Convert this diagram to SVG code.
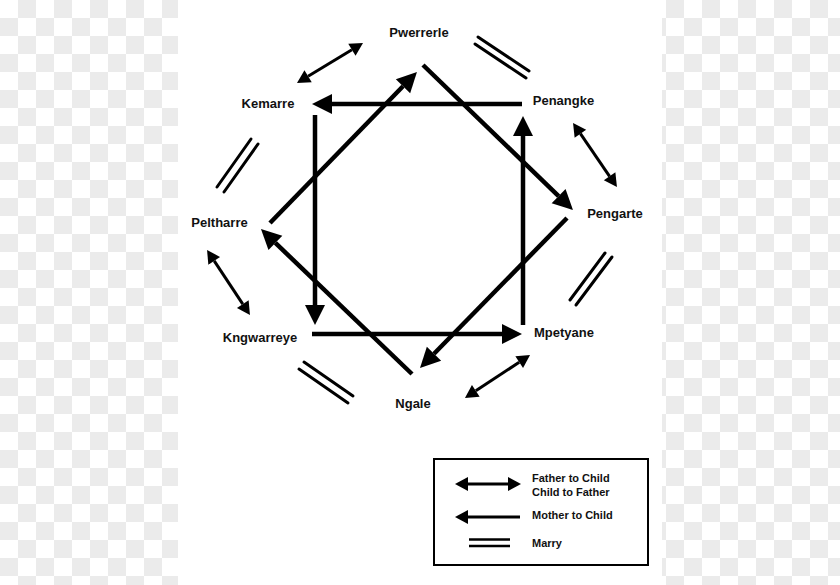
<svg xmlns="http://www.w3.org/2000/svg" width="840" height="585" viewBox="0 0 840 585">
  <defs>
    <pattern id="checker" x="0" y="0" width="36" height="36" patternUnits="userSpaceOnUse">
      <rect x="0" y="0" width="36" height="36" fill="#ffffff"/>
      <rect x="18" y="0" width="18" height="18" fill="#ebebeb"/>
      <rect x="0" y="18" width="18" height="18" fill="#ebebeb"/>
    </pattern>
    <marker id="big" markerUnits="userSpaceOnUse" markerWidth="22" markerHeight="22" refX="0" refY="0" viewBox="0 -11 21 22" orient="auto">
      <path d="M0,-10 L20,0 L0,10 Z" fill="#000"/>
    </marker>
    <marker id="small" markerUnits="userSpaceOnUse" markerWidth="15" markerHeight="16" refX="0" refY="0" viewBox="0 -8 14 16" orient="auto-start-reverse">
      <path d="M0,-7 L13,0 L0,7 Z" fill="#000"/>
    </marker>
    <style>
      .lbl { font-family: "Liberation Sans", Arial, sans-serif; font-weight: bold; font-size: 13px; fill: #111; text-anchor: middle; }
      .leg { font-family: "Liberation Sans", Arial, sans-serif; font-weight: bold; font-size: 11px; fill: #111; }
      .main { stroke: #000; stroke-width: 4.5; fill: none; marker-end: url(#big); }
      .fc { stroke: #000; stroke-width: 3; fill: none; marker-start: url(#small); marker-end: url(#small); }
      .mc { stroke: #000; stroke-width: 3; fill: none; marker-end: url(#small); }
      .marry { stroke: #000; stroke-width: 3; fill: none; stroke-linecap: round; }
    </style>
  </defs>
  <rect x="0" y="0" width="840" height="585" fill="url(#checker)"/>
  <rect x="178" y="0" width="484" height="585" fill="#ffffff"/>

  <g id="connectors">
    <!-- mother to child: outer square -->
    <line class="main" x1="522" y1="104" x2="332" y2="104"/>
    <line class="main" x1="315" y1="115" x2="315" y2="305"/>
    <line class="main" x1="312" y1="334" x2="502" y2="334"/>
    <line class="main" x1="523" y1="325" x2="523" y2="136"/>
    <!-- mother to child: rotated square -->
    <line class="main" x1="423" y1="65" x2="558.6" y2="196.1"/>
    <line class="main" x1="567" y1="218" x2="434" y2="353.7"/>
    <line class="main" x1="412" y1="374" x2="275.4" y2="242.9"/>
    <line class="main" x1="270" y1="223" x2="403" y2="86.3"/>
    <!-- father to child -->
    <line class="fc" x1="308.1" y1="76.3" x2="351.9" y2="49.7"/>
    <line class="fc" x1="580.4" y1="133.7" x2="609.6" y2="176.3"/>
    <line class="fc" x1="214.2" y1="260.8" x2="242.8" y2="304.2"/>
    <line class="fc" x1="519.2" y1="362.2" x2="475.8" y2="390.8"/>
    <!-- marry -->
    <line class="marry" x1="478" y1="37" x2="529" y2="71"/>
    <line class="marry" x1="475" y1="44" x2="526" y2="78"/>
    <line class="marry" x1="217" y1="187" x2="251" y2="139"/>
    <line class="marry" x1="224" y1="192" x2="258" y2="144"/>
    <line class="marry" x1="570" y1="300" x2="605" y2="253"/>
    <line class="marry" x1="576" y1="305" x2="612" y2="257"/>
    <line class="marry" x1="304" y1="362" x2="353" y2="396"/>
    <line class="marry" x1="299" y1="369" x2="348" y2="403"/>
  </g>

  <g id="n-pwerrerle"><text class="lbl" x="419" y="37">Pwerrerle</text></g>
  <g id="n-kemarre"><text class="lbl" x="268" y="108">Kemarre</text></g>
  <g id="n-penangke"><text class="lbl" x="563.5" y="105">Penangke</text></g>
  <g id="n-pengarte"><text class="lbl" x="615" y="218">Pengarte</text></g>
  <g id="n-peltharre"><text class="lbl" x="219.5" y="227">Peltharre</text></g>
  <g id="n-kngwarreye"><text class="lbl" x="260" y="342">Kngwarreye</text></g>
  <g id="n-mpetyane"><text class="lbl" x="564" y="337">Mpetyane</text></g>
  <g id="n-ngale"><text class="lbl" x="413" y="408">Ngale</text></g>

  <g id="legend">
    <rect x="434" y="459" width="214" height="106" fill="#fff" stroke="#000" stroke-width="2"/>
    <line class="fc" x1="468" y1="484" x2="508" y2="484"/>
    <text class="leg" x="532" y="482">Father to Child</text>
    <text class="leg" x="532" y="496">Child to Father</text>
    <line class="mc" x1="520" y1="517" x2="468" y2="517"/>
    <text class="leg" x="532" y="519">Mother to Child</text>
    <line stroke="#000" stroke-width="2.5" x1="469" y1="539.5" x2="510" y2="539.5"/>
    <line stroke="#000" stroke-width="2.5" x1="469" y1="546" x2="510" y2="546"/>
    <text class="leg" x="532" y="547">Marry</text>
  </g>
</svg>
